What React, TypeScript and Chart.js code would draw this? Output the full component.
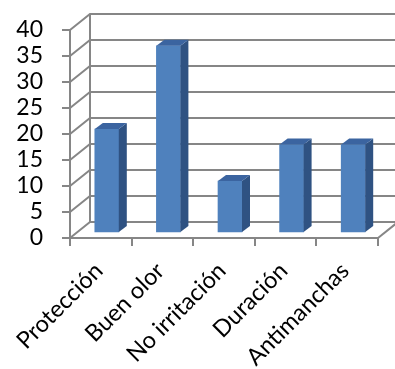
import React, { useEffect, useRef } from "react";
import { Chart, registerables } from "chart.js";

Chart.register(...registerables);

const categories = ["Protección", "Buen olor", "No irritación", "Duración", "Antimanchas"];
const values = [20, 36, 10, 17, 17];
const yMin = 0;
const yMax = 40;
const yStep = 5;

const WALL_DX = 20;
const WALL_DY = -16;
const BAR_DX = 6;
const BAR_DY = -5;
const DEPTH_DX = 8;
const DEPTH_DY = -6;
const LINE = "#868686";
const LW = 2;
const FONT = "Lato";

const threeD = {
  id: "threeD",
  beforeDatasetsDraw(chart: any) {
    const ctx = chart.ctx;
    const y = chart.scales.y;
    const left = chart.chartArea.left;
    const right = chart.chartArea.right;
    ctx.save();
    ctx.strokeStyle = LINE;
    ctx.lineWidth = LW;
    for (let v = yMin; v <= yMax; v += yStep) {
      const py = y.getPixelForValue(v);
      ctx.beginPath();
      ctx.moveTo(left, py);
      ctx.lineTo(left + WALL_DX, py + WALL_DY);
      ctx.lineTo(right + WALL_DX, py + WALL_DY);
      ctx.stroke();
    }
    ctx.beginPath();
    ctx.moveTo(left + WALL_DX, y.getPixelForValue(yMax) + WALL_DY);
    ctx.lineTo(left + WALL_DX, y.getPixelForValue(yMin) + WALL_DY);
    ctx.stroke();
    const by = y.getPixelForValue(yMin);
    ctx.beginPath();
    ctx.moveTo(right, by);
    ctx.lineTo(right + WALL_DX, by + WALL_DY);
    ctx.stroke();
    ctx.restore();
    ctx.save();
    ctx.translate(BAR_DX, BAR_DY);
  },
  afterDatasetsDraw(chart: any) {
    const ctx = chart.ctx;
    ctx.restore();
    const meta = chart.getDatasetMeta(0);
    ctx.save();
    ctx.translate(BAR_DX, BAR_DY);
    meta.data.forEach((el: any) => {
      const { x, y, base, width } = el.getProps(["x", "y", "base", "width"], true);
      const x1 = x - width / 2;
      const x2 = x + width / 2;
      ctx.fillStyle = "#2f5282";
      ctx.beginPath();
      ctx.moveTo(x2, y);
      ctx.lineTo(x2 + DEPTH_DX, y + DEPTH_DY);
      ctx.lineTo(x2 + DEPTH_DX, base + DEPTH_DY);
      ctx.lineTo(x2, base);
      ctx.closePath();
      ctx.fill();
      ctx.fillStyle = "#3b64a0";
      ctx.beginPath();
      ctx.moveTo(x1, y);
      ctx.lineTo(x1 + DEPTH_DX, y + DEPTH_DY);
      ctx.lineTo(x2 + DEPTH_DX, y + DEPTH_DY);
      ctx.lineTo(x2, y);
      ctx.closePath();
      ctx.fill();
    });
    ctx.restore();
  },
};

export default function App() {
  const ref = useRef<HTMLCanvasElement>(null);
  useEffect(() => {
    if (!ref.current) return;
    const chart = new Chart(ref.current, {
      type: "bar",
      data: {
        labels: categories,
        datasets: [
          {
            data: values,
            backgroundColor: "#4f81bd",
            borderWidth: 0,
            barThickness: 24,
            clip: false as any,
          },
        ],
      },
      options: {
        animation: false,
        responsive: false,
        layout: { padding: { top: 30, right: 17, left: 0, bottom: 0 } },
        plugins: { legend: { display: false }, tooltip: { enabled: false } },
        scales: {
          x: {
            grid: {
              offset: true,
              drawOnChartArea: false,
              drawTicks: true,
              tickLength: 8,
              color: LINE,
              lineWidth: LW,
            },
            border: { display: true, color: LINE, width: LW },
            ticks: {
              minRotation: 45,
              maxRotation: 45,
              autoSkip: false,
              padding: 11,
              labelOffset: -2,
              color: "#000",
              font: { family: FONT, size: 23.5 },
            },
            afterFit(scale: any) {
              scale.height = 369 - 238;
              scale.paddingLeft = 0;
              scale.paddingRight = 0;
            },
          },
          y: {
            min: yMin,
            max: yMax,
            grid: {
              drawOnChartArea: false,
              drawTicks: true,
              tickLength: 8,
              color: LINE,
              lineWidth: LW,
            },
            border: { display: true, color: LINE, width: LW },
            ticks: {
              stepSize: yStep,
              autoSkip: false,
              padding: 19,
              color: "#000",
              font: { family: FONT, size: 23 },
            },
            afterFit(scale: any) {
              scale.width = 70;
              scale.paddingTop = 0;
              scale.paddingBottom = 0;
            },
          },
        },
      },
      plugins: [threeD],
    });
    return () => chart.destroy();
  }, []);
  return (
    <div style={{ position: "absolute", left: 0, top: 0, width: 395, height: 369, background: "#fff" }}>
      <canvas ref={ref} width={395} height={369} style={{ display: "block" }} />
    </div>
  );
}
